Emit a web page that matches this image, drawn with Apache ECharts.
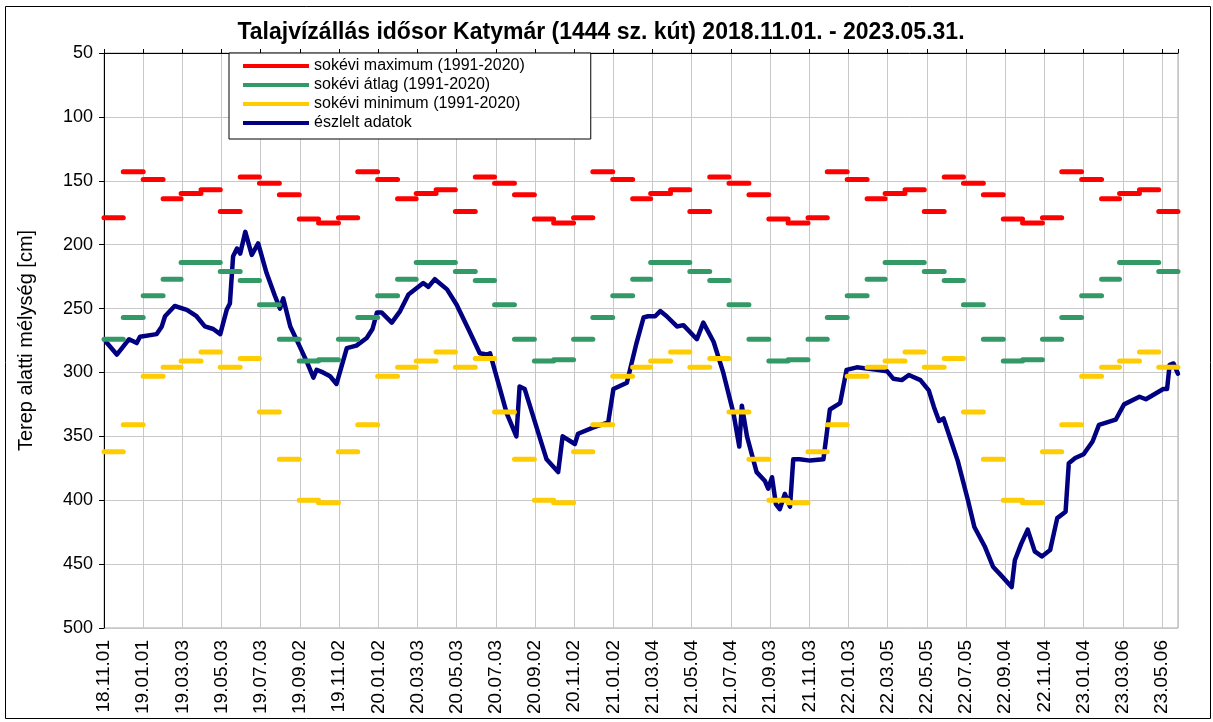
<!DOCTYPE html>
<html><head><meta charset="utf-8">
<script src="https://cdn.jsdelivr.net/npm/echarts@6/dist/echarts.min.js"></script>
<style>html,body{margin:0;padding:0;background:#fff}#c{width:1213px;height:722px}</style>
</head><body><div id="c"></div>
<script>
// ---------- texts ----------
const titleText = 'Talajvízállás idősor Katymár (1444 sz. kút) 2018.11.01. - 2023.05.31.';
const yAxisName = 'Terep alatti mélység [cm]';
const nameMax = 'sokévi maximum (1991-2020)';
const nameAvg = 'sokévi átlag (1991-2020)';
const nameMin = 'sokévi minimum (1991-2020)';
const nameObs = 'észlelt adatok';

// ---------- axes ----------
const startDateUTC = Date.UTC(2018, 10, 1);   // 2018-11-01 = day 0
const endDay = 1672;                          // 2023-05-31
const xTickStepDays = 61;
const yMin = 50, yMax = 500, yStep = 50;

// ---------- long-term monthly values (Jan..Dec), cm below surface ----------
const maxMonthly = [149, 164, 160, 157, 174, 147, 152, 161, 180, 183, 179, 143];
const avgMonthly = [240, 227, 214, 214, 221, 228, 247, 274, 291, 290, 274, 257];
const minMonthly = [303, 296, 291, 284, 296, 289, 331, 368, 400, 402, 362, 341];

// ---------- observed data: days since 2018-11-01, depth cm ----------
const obsDay = [3,20,39,51,56,82,90,95,110,129,144,157,170,181,191,196,201,207,212,220,230,240,253,266,274,279,290,305,316,326,331,341,352,362,378,393,409,418,425,432,448,461,474,497,505,515,534,549,570,585,596,601,611,627,642,647,655,663,679,689,707,714,733,738,762,785,793,814,829,840,847,858,866,876,892,902,923,933,949,964,980,989,993,1001,1016,1029,1034,1040,1046,1052,1060,1068,1073,1083,1099,1120,1130,1146,1156,1172,1203,1219,1229,1242,1253,1271,1284,1292,1300,1307,1319,1329,1345,1355,1371,1384,1397,1413,1418,1428,1438,1449,1460,1473,1484,1497,1502,1512,1525,1539,1549,1575,1588,1612,1622,1649,1655,1659,1665,1672];
const obsDepth = [276,286,274,277,272,270,264,256,248,251,256,264,266,270,251,246,209,203,207,190,208,199,222,240,250,242,264,280,292,304,298,300,303,309,281,279,273,266,253,253,261,252,239,230,233,227,235,247,269,285,286,285,303,332,350,311,313,326,352,368,378,350,356,348,343,339,313,308,277,257,256,256,252,256,264,263,274,261,276,300,332,358,326,350,378,385,391,382,403,407,395,405,368,368,369,368,329,324,298,296,298,299,305,306,302,306,314,327,338,336,354,369,400,421,436,452,459,468,447,434,423,440,444,439,414,409,371,367,364,354,341,337,325,319,321,313,313,294,293,301];

// ---------- build data ----------
const DAY = 86400000;
function dayOf(y, m) { return (Date.UTC(y, m, 1) - startDateUTC) / DAY; }
function monthlySteps(vals) {
  const out = [];
  let y = 2018, m = 10;
  while (dayOf(y, m) < endDay) {
    const s = dayOf(y, m);
    const e = Math.min(dayOf(y, m + 1), endDay);
    out.push([s, vals[m]], [e, vals[m]], [e, '-']);
    m++; if (m > 11) { m = 0; y++; }
  }
  return out;
}
const obsData = obsDay.map((d, i) => [d, obsDepth[i]]);

function fmtDay(v) {
  const d = new Date(startDateUTC + Math.round(v) * DAY);
  const p = n => String(n).padStart(2, '0');
  return p(d.getUTCFullYear() % 100) + '.' + p(d.getUTCMonth() + 1) + '.' + p(d.getUTCDate());
}

const FONT = '"Liberation Sans", Arial, sans-serif';
const chart = echarts.init(document.getElementById('c'), null, { renderer: 'canvas' });
chart.setOption({
  backgroundColor: '#ffffff',
  animation: false,
  title: {
    text: titleText, left: 596, top: 16, textAlign: 'center',
    textStyle: { fontFamily: FONT, fontWeight: 'bold', fontSize: 23, color: '#000' }
  },
  graphic: [{
    type: 'rect', left: 3, top: 4, z: 0, silent: true,
    shape: { width: 1205, height: 712 },
    style: { fill: null, stroke: '#000', lineWidth: 1 }
  }],
  legend: {
    data: [nameMax, nameAvg, nameMin, nameObs],
    orient: 'vertical', left: 229, top: 53,
    padding: [5, 66, 8, 14],
    itemGap: 3, itemWidth: 66, itemHeight: 4, icon: 'rect',
    backgroundColor: '#fff', borderColor: '#000', borderWidth: 1, borderRadius: 0,
    textStyle: { fontFamily: FONT, fontSize: 16, color: '#000', lineHeight: 16 },
    selectedMode: false
  },
  grid: {
    left: 104, right: 35, top: 53, bottom: 94,
    show: true, borderColor: '#a6a6a6', borderWidth: 1
  },
  xAxis: [{
    type: 'value', min: 0, max: endDay, interval: xTickStepDays,
    position: 'bottom',
    axisLine: { show: false },
    axisTick: { show: false },
    splitLine: { show: true, lineStyle: { color: '#c8c8c8', width: 1 } },
    axisLabel: {
      rotate: 90, margin: 12, showMaxLabel: false,
      fontFamily: FONT, fontSize: 19, color: '#000',
      formatter: v => (v % xTickStepDays === 0 ? fmtDay(v) : '')
    }
  }, {
    type: 'value', min: 0, max: endDay, interval: xTickStepDays,
    position: 'top',
    axisLine: { show: true, lineStyle: { color: '#000', width: 1 } },
    axisTick: { show: true, inside: false, length: 4, lineStyle: { color: '#000' } },
    axisLabel: { show: false },
    splitLine: { show: false }
  }],
  yAxis: {
    type: 'value', inverse: true, min: yMin, max: yMax, interval: yStep,
    name: yAxisName, nameLocation: 'middle', nameGap: 68, nameRotate: 90,
    nameTextStyle: { fontFamily: FONT, fontSize: 20, color: '#000' },
    axisLine: { show: true, lineStyle: { color: '#000', width: 1 } },
    axisTick: { show: true, length: 5, lineStyle: { color: '#000' } },
    splitLine: { show: true, lineStyle: { color: '#c8c8c8', width: 1 } },
    axisLabel: { fontFamily: FONT, fontSize: 18, color: '#000', margin: 11 }
  },
  series: [
    {
      name: nameObs, type: 'line', data: obsData, showSymbol: false, symbol: 'none',
      lineStyle: { color: '#000080', width: 4.5, join: 'round', cap: 'round' },
      itemStyle: { color: '#000080' }, z: 2
    },
    {
      name: nameMax, type: 'line', data: monthlySteps(maxMonthly), showSymbol: false, symbol: 'none',
      connectNulls: false,
      lineStyle: { color: '#ff0000', width: 5, cap: 'round' }, itemStyle: { color: '#ff0000' }, z: 3
    },
    {
      name: nameAvg, type: 'line', data: monthlySteps(avgMonthly), showSymbol: false, symbol: 'none',
      connectNulls: false,
      lineStyle: { color: '#339966', width: 5, cap: 'round' }, itemStyle: { color: '#339966' }, z: 3
    },
    {
      name: nameMin, type: 'line', data: monthlySteps(minMonthly), showSymbol: false, symbol: 'none',
      connectNulls: false,
      lineStyle: { color: '#ffcc00', width: 5, cap: 'round' }, itemStyle: { color: '#ffcc00' }, z: 3
    }
  ]
});
</script></body></html>
